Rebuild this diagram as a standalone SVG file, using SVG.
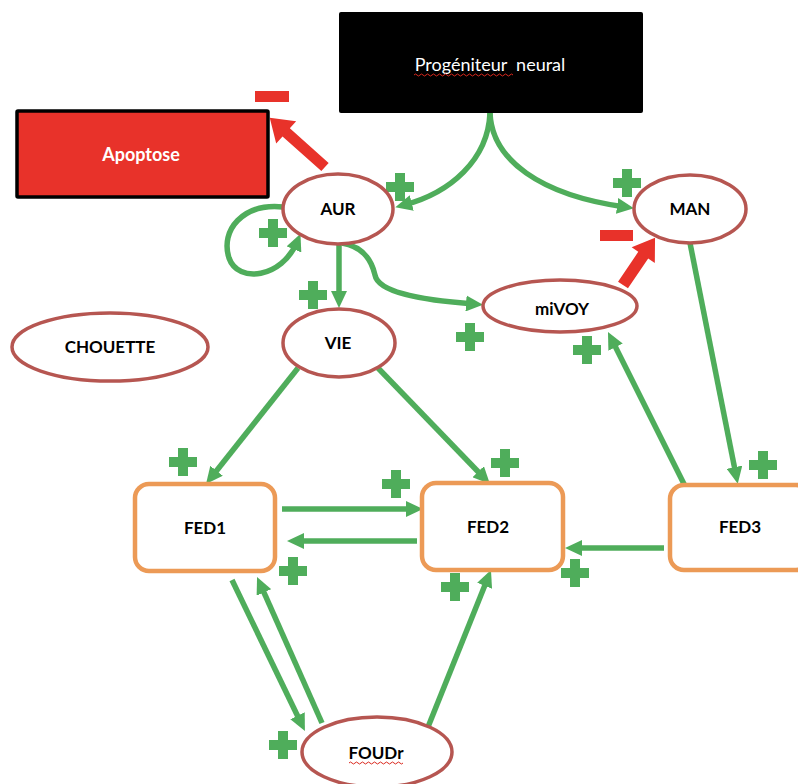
<svg xmlns="http://www.w3.org/2000/svg" width="798" height="784" viewBox="0 0 798 784">
  <style>
    .lbl { font-family: Lato, "Open Sans", "Liberation Sans", sans-serif; font-weight: bold; font-size: 17px; fill: #000; text-anchor: middle; }
    .oval { fill: #fff; stroke: #b65651; stroke-width: 3.5; }
    .fed { fill: #fff; stroke: #ec9a56; stroke-width: 4.5; }
    .link { fill: none; stroke: #4fad5b; stroke-width: 5.5; marker-end: url(#head); }
    .inhib { fill: #e8322a; }
    .plus { fill: #4fad5b; }
    .squiggle { fill: none; stroke: #d9281e; stroke-width: 1; }
  </style>
  <defs>
    <marker id="head" markerUnits="userSpaceOnUse" markerWidth="18" markerHeight="16" refX="8" refY="8" orient="auto">
      <path d="M0,0 L17,8 L0,16 z" fill="#4fad5b"/>
    </marker>
    <path id="cross" d="M-5,-14 h10 v9 h9 v10 h-9 v9 h-10 v-9 h-9 v-10 h9 z"/>
  </defs>

  <rect width="798" height="784" fill="#fff"/>

  <!-- connectors -->
  <g id="connectors">
    <path class="link" d="M490,113 C488,160 450,193 404,205"/>
    <path class="link" d="M490,113 C492,160 540,195 625,207"/>
    <path class="link" d="M283,207 C243,203 220,230 229,258 C238,284 282,278 297,242"/>
    <path class="link" d="M339,244 L339,299"/>
    <path class="link" d="M342,243 C365,247 372,262 375,275 C378,292 420,300 474,304"/>
    <path class="link" d="M690,243 L736,475"/>
    <path class="link" d="M686,488 L612,340"/>
    <path class="link" d="M664,548 L574,548"/>
    <path class="link" d="M298,368 L211.6,477"/>
    <path class="link" d="M378,368 L483.7,477.5"/>
    <path class="link" d="M282,509 L414,509"/>
    <path class="link" d="M417,541 L296,541"/>
    <path class="link" d="M232,580 L301,723"/>
    <path class="link" d="M322,723 L260.7,585.2"/>
    <path class="link" d="M428,727 L487.6,578.4"/>

    <!-- inhibitory arrows -->
    <polygon class="inhib" transform="translate(325,167) rotate(-138.3)" points="0,-5.5 52,-5.5 52,-15 74,0 52,15 52,5.5 0,5.5"/>
    <polygon class="inhib" transform="translate(623,285) rotate(-55.8)" points="0,-6 36,-6 36,-14 57,0 36,14 36,6 0,6"/>
    <rect class="inhib" x="255" y="91" width="34" height="11"/>
    <rect class="inhib" x="600" y="230" width="33" height="11"/>

    <!-- activation signs -->
    <use href="#cross" class="plus" x="400" y="187"/>
    <use href="#cross" class="plus" x="273" y="233"/>
    <use href="#cross" class="plus" x="313" y="295"/>
    <use href="#cross" class="plus" x="627" y="183"/>
    <use href="#cross" class="plus" x="470" y="337"/>
    <use href="#cross" class="plus" x="587" y="350"/>
    <use href="#cross" class="plus" x="183" y="462"/>
    <use href="#cross" class="plus" x="396" y="484"/>
    <use href="#cross" class="plus" x="293" y="571"/>
    <use href="#cross" class="plus" x="505" y="463"/>
    <use href="#cross" class="plus" x="455" y="587"/>
    <use href="#cross" class="plus" x="575" y="573"/>
    <use href="#cross" class="plus" x="763" y="465"/>
    <use href="#cross" class="plus" x="283" y="745"/>
  </g>

  <!-- nodes -->
  <g id="progeniteur">
    <rect x="339" y="12" width="304" height="101" rx="2" fill="#000"/>
    <text x="490" y="71" font-family="Lato, 'Open Sans', 'Liberation Sans', sans-serif" font-size="18" fill="#fff" text-anchor="middle" xml:space="preserve">Progéniteur  neural</text>
    <path class="squiggle" d="M414,75 q1.5,-2 3,0 t3,0 t3,0 t3,0 t3,0 t3,0 t3,0 t3,0 t3,0 t3,0 t3,0 t3,0 t3,0 t3,0 t3,0 t3,0 t3,0 t3,0 t3,0 t3,0 t3,0 t3,0 t3,0 t3,0 t3,0 t3,0 t3,0 t3,0 t3,0 t3,0 t3,0 t3,0 t3,0"/>
  </g>

  <g id="apoptose">
    <rect x="17" y="111" width="251" height="86" fill="#e8322a" stroke="#000" stroke-width="3.5" rx="1"/>
    <text class="lbl" x="141" y="161" style="fill:#fff;font-size:18px">Apoptose</text>
  </g>

  <g id="aur">
    <ellipse class="oval" cx="338" cy="209" rx="55" ry="35"/>
    <text class="lbl" x="338" y="215">AUR</text>
  </g>

  <g id="man">
    <ellipse class="oval" cx="690" cy="209" rx="56" ry="34"/>
    <text class="lbl" x="690" y="215">MAN</text>
  </g>

  <g id="mivoy">
    <ellipse class="oval" cx="560" cy="306" rx="77" ry="26"/>
    <text class="lbl" x="562" y="315">miVOY</text>
  </g>

  <g id="vie">
    <ellipse class="oval" cx="339" cy="343" rx="56" ry="34"/>
    <text class="lbl" x="338" y="349">VIE</text>
  </g>

  <g id="chouette">
    <ellipse class="oval" cx="110" cy="347" rx="98" ry="34"/>
    <text class="lbl" x="110" y="353">CHOUETTE</text>
  </g>

  <g id="fed1">
    <rect class="fed" x="135" y="484" width="140" height="87" rx="14"/>
    <text class="lbl" x="205" y="534">FED1</text>
  </g>

  <g id="fed2">
    <rect class="fed" x="422" y="483" width="141" height="87" rx="14"/>
    <text class="lbl" x="488" y="533">FED2</text>
  </g>

  <g id="fed3">
    <rect class="fed" x="670" y="485" width="140" height="85" rx="14"/>
    <text class="lbl" x="740" y="533">FED3</text>
  </g>

  <g id="foudr">
    <ellipse class="oval" cx="377" cy="752" rx="75" ry="35"/>
    <text class="lbl" x="376" y="759">FOUDr</text>
    <path class="squiggle" d="M349,763 q1.5,-2 3,0 t3,0 t3,0 t3,0 t3,0 t3,0 t3,0 t3,0 t3,0 t3,0 t3,0 t3,0 t3,0 t3,0 t3,0 t3,0 t3,0 t3,0"/>
  </g>
</svg>
